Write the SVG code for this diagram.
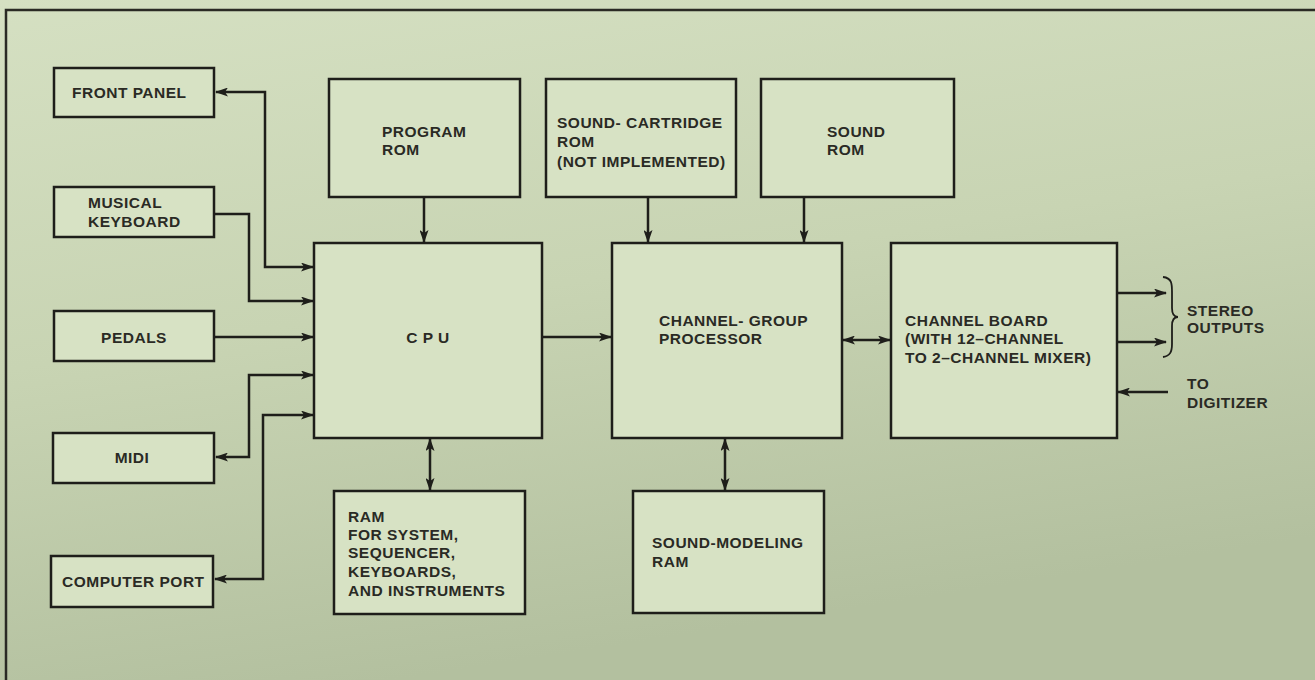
<svg xmlns="http://www.w3.org/2000/svg" width="1315" height="680" viewBox="0 0 1315 680">
<defs>
<linearGradient id="bg" x1="0" y1="0" x2="0.3" y2="1">
<stop offset="0" stop-color="#d5e0c2"/>
<stop offset="0.5" stop-color="#c8d4b3"/>
<stop offset="1" stop-color="#b3c09f"/>
</linearGradient>
<marker id="ah" viewBox="0 0 13 9" refX="12" refY="4.5" markerWidth="13" markerHeight="9" markerUnits="userSpaceOnUse" orient="auto-start-reverse">
<path d="M0,0 L13,4.5 L0,9 L3,4.5 Z" fill="#1e1e1a"/>
</marker>
<style>
.box{fill:#d7e2c4;stroke:#1e1e1a;stroke-width:2.5}
.t{font-family:"Liberation Sans",Arial,sans-serif;font-size:15.5px;font-weight:bold;fill:#2a2a24;letter-spacing:0.5px}
.c{fill:none;stroke:#1e1e1a;stroke-width:2.5}
.ca{fill:none;stroke:#1e1e1a;stroke-width:2.5;marker-end:url(#ah)}
.cb{fill:none;stroke:#1e1e1a;stroke-width:2.5;marker-end:url(#ah);marker-start:url(#ah)}
</style>
</defs>
<rect x="0" y="0" width="1315" height="680" fill="url(#bg)"/>
<path d="M6,680 L6,10 L1315,10" fill="none" stroke="#2a2a24" stroke-width="2.5"/>

<g id="front-panel"><rect class="box" x="54" y="68" width="160" height="49"/><text class="t" x="72" y="98">FRONT  PANEL</text></g>
<g id="musical-keyboard"><rect class="box" x="54" y="187" width="160" height="50"/><text class="t" x="88" y="208">MUSICAL</text><text class="t" x="88" y="227">KEYBOARD</text></g>
<g id="pedals"><rect class="box" x="54" y="311" width="160" height="50"/><text class="t" x="134" y="343" text-anchor="middle">PEDALS</text></g>
<g id="midi"><rect class="box" x="53" y="433" width="161" height="50"/><text class="t" x="132" y="463" text-anchor="middle">MIDI</text></g>
<g id="computer-port"><rect class="box" x="51" y="556" width="162" height="51"/><text class="t" x="62" y="587">COMPUTER PORT</text></g>
<g id="program-rom"><rect class="box" x="329" y="79" width="191" height="118"/><text class="t" x="382" y="137">PROGRAM</text><text class="t" x="382" y="155">ROM</text></g>
<g id="sound-cartridge-rom"><rect class="box" x="546" y="79" width="190" height="118"/><text class="t" x="557" y="128">SOUND- CARTRIDGE</text><text class="t" x="557" y="147">ROM</text><text class="t" x="557" y="167">(NOT IMPLEMENTED)</text></g>
<g id="sound-rom"><rect class="box" x="761" y="79" width="193" height="118"/><text class="t" x="827" y="137">SOUND</text><text class="t" x="827" y="155">ROM</text></g>
<g id="cpu"><rect class="box" x="314" y="243" width="228" height="195"/><text class="t" x="428" y="343" text-anchor="middle">C P U</text></g>
<g id="channel-group-processor"><rect class="box" x="612" y="243" width="230" height="195"/><text class="t" x="659" y="326">CHANNEL- GROUP</text><text class="t" x="659" y="344">PROCESSOR</text></g>
<g id="channel-board"><rect class="box" x="891" y="243" width="226" height="195"/><text class="t" x="905" y="326">CHANNEL  BOARD</text><text class="t" x="905" y="344">(WITH 12–CHANNEL</text><text class="t" x="905" y="363">TO 2–CHANNEL MIXER)</text></g>
<g id="ram"><rect class="box" x="334" y="491" width="191" height="123"/><text class="t" x="348" y="522">RAM</text><text class="t" x="348" y="540">FOR SYSTEM,</text><text class="t" x="348" y="558">SEQUENCER,</text><text class="t" x="348" y="577">KEYBOARDS,</text><text class="t" x="348" y="596">AND INSTRUMENTS</text></g>
<g id="sound-modeling-ram"><rect class="box" x="633" y="491" width="191" height="122"/><text class="t" x="652" y="548">SOUND-MODELING</text><text class="t" x="652" y="567">RAM</text></g>
<g id="stereo-outputs"><path d="M1163,277 C1172,278 1172,284 1172,292 L1172,308 C1172,314 1174,317 1178,317 C1174,317 1172,320 1172,326 L1172,344 C1172,352 1170,356 1163,357" fill="none" stroke="#1e1e1a" stroke-width="1.8"/><text class="t" x="1187" y="316">STEREO</text><text class="t" x="1187" y="333">OUTPUTS</text></g>
<g id="to-digitizer"><text class="t" x="1187" y="389">TO</text><text class="t" x="1187" y="408">DIGITIZER</text></g>

<g id="connectors">
<path class="cb" d="M216,92 L265,92 L265,267 L313,267"/>
<path class="ca" d="M214,214 L249,214 L249,301 L313,301"/>
<path class="ca" d="M214,337 L313,337"/>
<path class="cb" d="M313,375 L249,375 L249,457 L216,457"/>
<path class="cb" d="M313,415 L263,415 L263,579 L215,579"/>
<path class="ca" d="M424,197 L424,242"/>
<path class="ca" d="M648,197 L648,242"/>
<path class="ca" d="M804,197 L804,242"/>
<path class="ca" d="M542,337 L611,337"/>
<path class="cb" d="M843,340 L890,340"/>
<path class="cb" d="M430,439 L430,490"/>
<path class="cb" d="M725,439 L725,490"/>
<path class="ca" d="M1117,293 L1166,293"/>
<path class="ca" d="M1117,342 L1166,342"/>
<path class="ca" d="M1168,392 L1118,392"/>
</g>
</svg>
